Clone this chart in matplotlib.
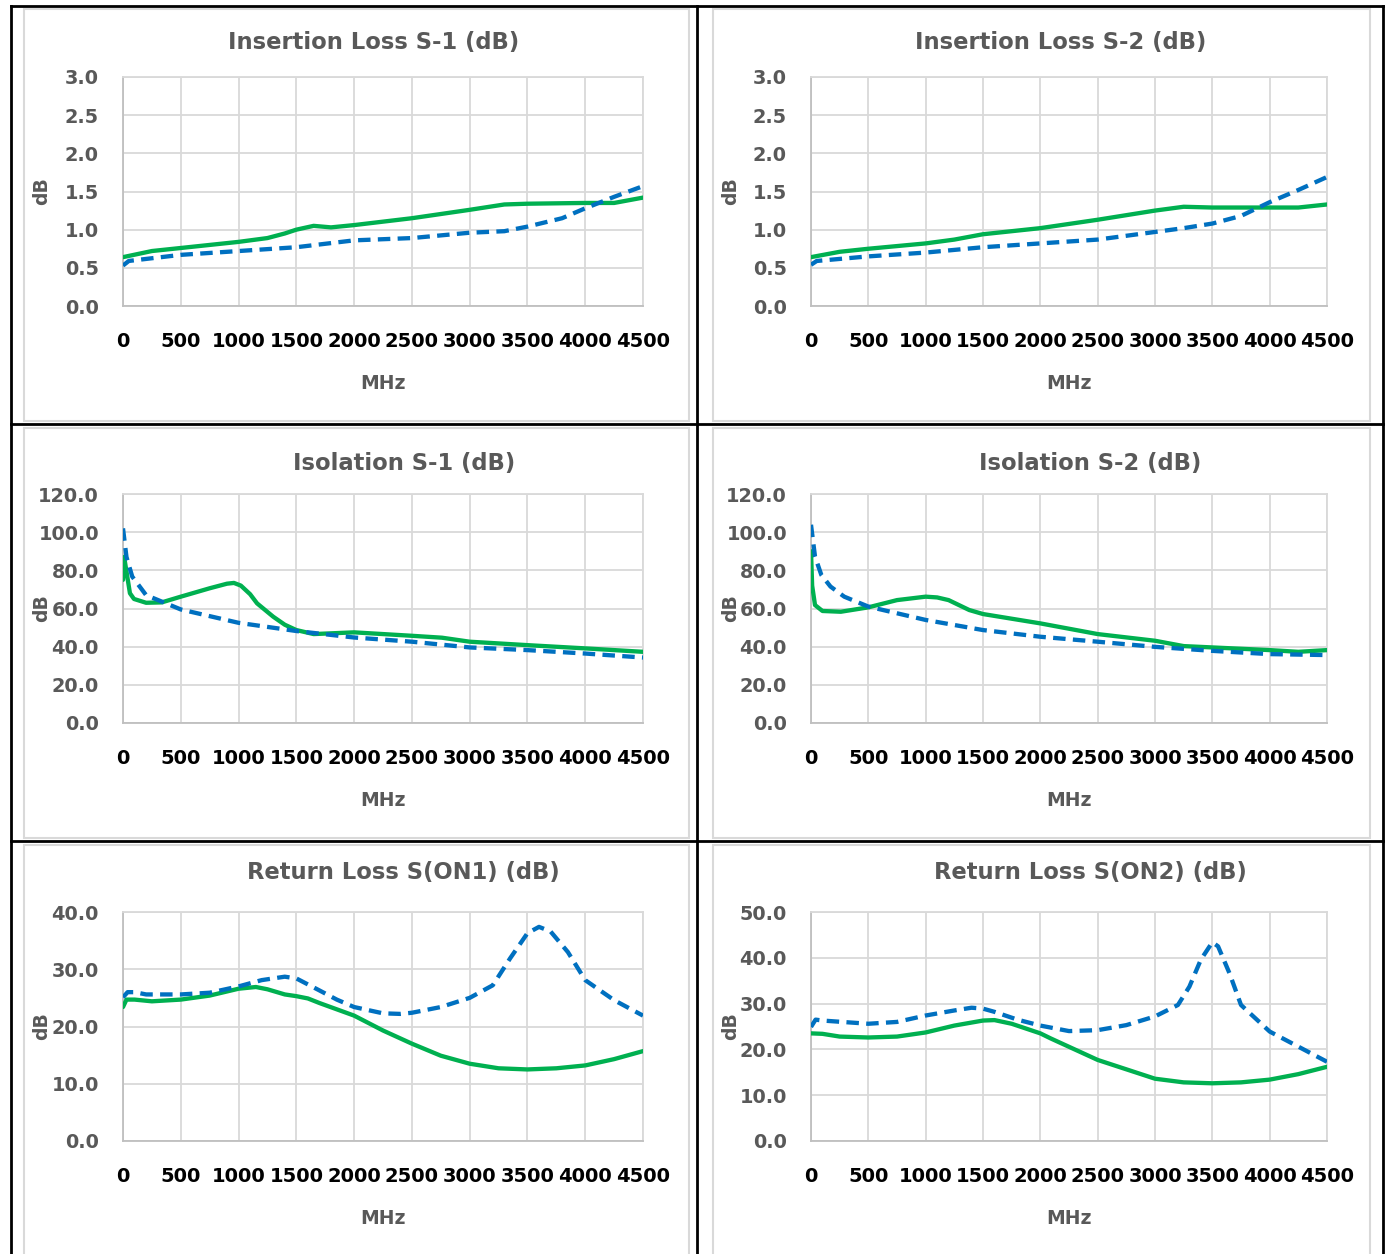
import matplotlib
matplotlib.use("Agg")
import matplotlib.pyplot as plt
from matplotlib.lines import Line2D
from matplotlib.patches import Rectangle

plt.rcParams['font.family'] = ['DejaVu Sans']

W, H = 1387, 1254

# ---------------- data (MHz, dB) ----------------
il1_green_x = [0, 250, 500, 1000, 1250, 1400, 1500, 1650, 1800, 2000, 2500, 3000, 3300, 3500, 4000, 4250, 4500]
il1_green_y = [0.64, 0.72, 0.76, 0.84, 0.89, 0.95, 1.00, 1.05, 1.03, 1.06, 1.15, 1.26, 1.33, 1.34, 1.35, 1.35, 1.42]
il1_blue_x = [0, 50, 500, 1000, 1500, 2000, 2500, 3000, 3300, 3500, 3800, 4000, 4250, 4500]
il1_blue_y = [0.53, 0.59, 0.67, 0.72, 0.77, 0.86, 0.89, 0.96, 0.98, 1.04, 1.15, 1.28, 1.43, 1.57]

il2_green_x = [0, 250, 500, 1000, 1250, 1500, 1750, 2000, 2500, 3000, 3250, 3500, 4000, 4250, 4500]
il2_green_y = [0.64, 0.71, 0.75, 0.82, 0.87, 0.94, 0.98, 1.02, 1.13, 1.25, 1.30, 1.29, 1.29, 1.29, 1.33]
il2_blue_x = [0, 50, 500, 1000, 1500, 2000, 2500, 3000, 3250, 3500, 3750, 4000, 4250, 4500]
il2_blue_y = [0.54, 0.59, 0.65, 0.70, 0.77, 0.82, 0.87, 0.97, 1.02, 1.08, 1.18, 1.36, 1.52, 1.69]

iso1_green_x = [0, 10, 60, 95, 200, 335, 500, 750, 900, 960, 1020, 1100, 1160, 1300, 1400, 1500, 1650, 2000, 2500,
                2760, 3000, 3500, 4000, 4500]
iso1_green_y = [75, 87, 68, 65, 63, 63.2, 66.2, 70.6, 73.0, 73.4, 72.0, 67.5, 62.7, 55.7, 51.5, 48.7, 46.6, 47.5, 45.7,
                44.7, 42.6, 40.8, 39.1, 37.3]
iso1_blue_x = [0, 30, 80, 200, 500, 1000, 1500, 2000, 2500, 3000, 3500, 4000, 4500]
iso1_blue_y = [102, 87, 76.7, 67, 59.5, 52.5, 48.2, 44.8, 42.6, 39.6, 38.2, 36.4, 34.3]

iso2_green_x = [0, 10, 35, 100, 260, 500, 750, 1000, 1100, 1200, 1380, 1500, 2000, 2500, 3000, 3250, 3500, 4000,
                4250, 4500]
iso2_green_y = [90, 72, 61.8, 58.7, 58.3, 60.6, 64.4, 66.2, 65.8, 64.4, 59.2, 57.1, 52.2, 46.6, 43.1, 40.3, 39.6, 38.2,
                37.3, 38.2]
iso2_blue_x = [0, 35, 90, 170, 290, 500, 1000, 1500, 2000, 2500, 3000, 3500, 4000, 4500]
iso2_blue_y = [103.9, 87.2, 77.6, 71.5, 66.2, 61, 54, 48.7, 45.2, 42.6, 39.9, 37.8, 36.1, 35.6]

rl1_green_x = [0, 30, 100, 250, 500, 750, 1000, 1150, 1250, 1400, 1500, 1600, 1700, 1850, 2000, 2250, 2500, 2750,
               3000, 3250, 3500, 3750, 4000, 4250, 4500]
rl1_green_y = [23.4, 24.7, 24.7, 24.4, 24.7, 25.4, 26.6, 26.9, 26.5, 25.6, 25.3, 24.9, 24.1, 23.0, 21.9, 19.3, 17.0, 14.9,
               13.5, 12.7, 12.5, 12.7, 13.2, 14.3, 15.7]
rl1_blue_x = [0, 40, 100, 200, 500, 750, 1000, 1200, 1400, 1500, 1700, 1850, 2000, 2250, 2400, 2500, 2750, 3000,
              3200, 3350, 3500, 3600, 3700, 3850, 4000, 4250, 4500]
rl1_blue_y = [25.1, 26.0, 26.0, 25.6, 25.6, 25.9, 27.0, 28.1, 28.7, 28.4, 26.3, 24.7, 23.4, 22.3, 22.2, 22.4, 23.4, 25.0,
              27.2, 31.9, 36.3, 37.4, 36.6, 33.0, 28.1, 24.6, 21.9]

rl2_green_x = [0, 100, 250, 500, 750, 1000, 1250, 1500, 1600, 1750, 2000, 2090, 2500, 3000, 3250, 3500, 3750, 4000,
               4250, 4500]
rl2_green_y = [23.5, 23.4, 22.8, 22.6, 22.8, 23.7, 25.2, 26.3, 26.4, 25.6, 23.5, 22.4, 17.7, 13.6, 12.8, 12.6, 12.8, 13.4,
               14.6, 16.2]
rl2_blue_x = [0, 40, 100, 500, 750, 1000, 1250, 1400, 1500, 1600, 1800, 2000, 2250, 2500, 2750, 3000, 3200, 3300,
              3400, 3500, 3550, 3650, 3750, 4000, 4250, 4500]
rl2_blue_y = [24.9, 26.5, 26.3, 25.6, 26.0, 27.4, 28.5, 29.1, 28.9, 28.2, 26.5, 25.2, 24.0, 24.2, 25.3, 27.2, 29.7, 33.7,
              39.6, 43.4, 42.5, 36.6, 29.7, 23.9, 20.6, 17.3]

titles = ["Insertion Loss S-1 (dB)", "Insertion Loss S-2 (dB)",
          "Isolation S-1 (dB)", "Isolation S-2 (dB)",
          "Return Loss S(ON1) (dB)", "Return Loss S(ON2) (dB)"]
y_maxes = [3.0, 3.0, 120.0, 120.0, 40.0, 50.0]
y_steps = [0.5, 0.5, 20.0, 20.0, 10.0, 10.0]
x_ticks = [0, 500, 1000, 1500, 2000, 2500, 3000, 3500, 4000, 4500]
x_label = "MHz"
y_label = "dB"

series = [
    (il1_green_x, il1_green_y, il1_blue_x, il1_blue_y),
    (il2_green_x, il2_green_y, il2_blue_x, il2_blue_y),
    (iso1_green_x, iso1_green_y, iso1_blue_x, iso1_blue_y),
    (iso2_green_x, iso2_green_y, iso2_blue_x, iso2_blue_y),
    (rl1_green_x, rl1_green_y, rl1_blue_x, rl1_blue_y),
    (rl2_green_x, rl2_green_y, rl2_blue_x, rl2_blue_y),
]

# ---------------- layout (pixels) ----------------
col_x = [(123, 643), (811, 1327)]
row_y = [(77, 306), (494, 723), (912, 1141)]
title_cx = [374, 1061, 404, 1090, 403, 1090]
title_y = [43, 43, 463, 463, 872, 872]
ylabel_right = [51, 740]
xlabel_gap = 68

GREEN = "#00B050"
BLUE = "#0070C0"
GRID = "#D9D9D9"
TXT = "#595959"

fig = plt.figure(figsize=(W / 100, H / 100), dpi=100)
fig.patch.set_facecolor("white")


def fx(x):
    return x / W


def fy(y):
    return 1 - y / H


# chart-area light borders
chart_cols = [(24, 689), (713, 1370)]
chart_rows = [(9, 421), (428, 838), (845, 1262)]
for (cx0, cx1) in chart_cols:
    for (cy0, cy1) in chart_rows:
        fig.add_artist(Rectangle((fx(cx0), fy(cy1)), fx(cx1) - fx(cx0), fy(cy0) - fy(cy1),
                                 transform=fig.transFigure, fill=False, edgecolor="#D9D9D9", lw=1.5))

for i in range(6):
    r, c = divmod(i, 2)
    x0, x1 = col_x[c]
    y0, y1 = row_y[r]
    ax = fig.add_axes([fx(x0), fy(y1), fx(x1) - fx(x0), fy(y0) - fy(y1)])
    gx, gy, bx, by = series[i]
    ax.plot(gx, gy, color=GREEN, lw=3.1, solid_capstyle="round", solid_joinstyle="round", zorder=3)
    ax.plot(bx, by, color=BLUE, lw=3.1, linestyle=(0, (2.9, 1.7)), dash_capstyle="butt",
            dash_joinstyle="round", zorder=4)
    ax.set_xlim(0, 4500)
    ax.set_ylim(0, y_maxes[i])
    yt = [k * y_steps[i] for k in range(int(round(y_maxes[i] / y_steps[i])) + 1)]
    ax.set_yticks(yt)
    ax.set_yticklabels([f"{v:.1f}" for v in yt])
    ax.set_xticks(x_ticks)
    ax.set_xticklabels([str(v) for v in x_ticks])
    ax.grid(True, color=GRID, lw=1.3)
    ax.set_axisbelow(True)
    for s in ax.spines.values():
        s.set_color(GRID)
        s.set_linewidth(1.3)
    ax.spines["left"].set_color("#BFBFBF")
    ax.spines["bottom"].set_color("#BFBFBF")
    ax.tick_params(axis="both", length=0)
    ax.tick_params(axis="y", pad=17.3, labelsize=13.9, labelcolor=TXT)
    ax.tick_params(axis="x", pad=19, labelsize=14, labelcolor="black")
    for lab in ax.get_xticklabels() + ax.get_yticklabels():
        lab.set_fontweight("bold")
    ax.set_xlabel(x_label, fontsize=13.5, fontweight="bold", color=TXT, va="top")
    ax.xaxis.set_label_coords(0.5, -xlabel_gap / (y1 - y0))
    ax.set_ylabel(y_label, fontsize=13.5, fontweight="bold", color=TXT)
    ax.yaxis.set_label_coords((ylabel_right[c] - x0) / (x1 - x0), 0.5)
    fig.text(fx(title_cx[i]), fy(title_y[i]), titles[i], ha="center", va="center",
             fontsize=16.3, fontweight="bold", color=TXT)

# table black lines
lw_tab = 2.0
for xx in [11, 697, 1383]:
    fig.add_artist(Line2D([fx(xx), fx(xx)], [fy(6), fy(1260)], transform=fig.transFigure, color="black", lw=lw_tab))
for yy in [6, 424, 841]:
    fig.add_artist(Line2D([fx(11), fx(1383)], [fy(yy), fy(yy)], transform=fig.transFigure, color="black", lw=lw_tab))

fig.savefig("out.png", dpi=100, facecolor="white")
